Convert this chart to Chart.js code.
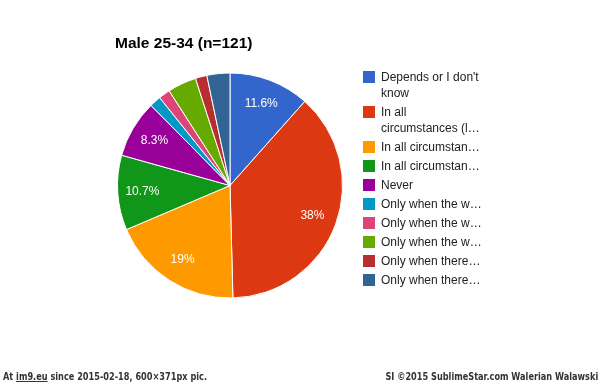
<!DOCTYPE html>
<html>
<head>
<meta charset="utf-8">
<script src="https://cdn.jsdelivr.net/npm/chart.js@4"></script>
<style>
  html, body { margin: 0; padding: 0; background: #fff; }
  #wrap { position: relative; width: 600px; height: 383px; overflow: hidden; background: #fff; }
  #chart { position: absolute; left: 0; top: 0; }
  #title { position: absolute; left: 115px; top: 34px; font: bold 15.5px Arial, "Liberation Sans", sans-serif; color: #000; white-space: nowrap; }
  #legend { position: absolute; left: 363px; top: 69px; font: 12px Arial, "Liberation Sans", sans-serif; color: #222; }
  .item { position: relative; padding-left: 18px; margin-bottom: 3px; line-height: 16px; white-space: pre-line; }
  .sw { position: absolute; left: 0; top: 2px; width: 12px; height: 12px; }
  #footer { position: absolute; left: 0; top: 371px; width: 600px; height: 12px; background: #fff; font: bold 11px "DejaVu Sans", sans-serif; color: #333; }
  #footer span { position: absolute; top: -1px; white-space: nowrap; }
  #footer .l { left: 3px; transform-origin: 0 50%; }
  #footer .r { right: 2px; transform-origin: 100% 50%; }
  #footer u { text-decoration: underline; }
</style>
</head>
<body>
<div id="wrap">
  <canvas id="chart" width="600" height="371"></canvas>
  <div id="title"></div>
  <div id="legend"></div>
  <div id="footer"><span class="l">At <u>im9.eu</u> since 2015-02-18, 600×371px pic.</span><span class="r">SI ©2015 SublimeStar.com Walerian Walawski</span></div>
</div>
<script>
const chartTitle = "Male 25-34 (n=121)";
const categories = [
  "Depends or I don't\nknow",
  "In all\ncircumstances (l…",
  "In all circumstan…",
  "In all circumstan…",
  "Never",
  "Only when the w…",
  "Only when the w…",
  "Only when the w…",
  "Only when there…",
  "Only when there…"
];
const counts = [14, 46, 23, 13, 10, 2, 2, 5, 2, 4];
const colors = ["#3366cc", "#dc3912", "#ff9900", "#109618", "#990099", "#0099c6", "#dd4477", "#66aa00", "#b82e2e", "#316395"];

document.getElementById('title').textContent = chartTitle;
const legend = document.getElementById('legend');
categories.forEach((c, i) => {
  const d = document.createElement('div');
  d.className = 'item';
  const s = document.createElement('span');
  s.className = 'sw';
  s.style.background = colors[i];
  d.appendChild(s);
  d.appendChild(document.createTextNode(c));
  legend.appendChild(d);
});

// condense footer text (same horizontal scale for both parts)
const fl = document.querySelector('#footer .l');
const fr = document.querySelector('#footer .r');
const k = 204 / fl.getBoundingClientRect().width;
fl.style.transform = 'scaleX(' + k + ')';
fr.style.transform = 'scaleX(' + k + ')';

const total = counts.reduce((a, b) => a + b, 0);
const pctLabels = {
  id: 'pctLabels',
  afterDatasetsDraw(chart) {
    const ctx = chart.ctx;
    const meta = chart.getDatasetMeta(0);
    ctx.save();
    ctx.font = '12px Arial, "Liberation Sans", sans-serif';
    ctx.fillStyle = '#fff';
    ctx.textAlign = 'center';
    ctx.textBaseline = 'middle';
    meta.data.forEach((arc, i) => {
      const pct = counts[i] / total * 100;
      if (pct < 5) return;
      const p = arc.getProps(['x', 'y', 'startAngle', 'endAngle', 'outerRadius'], true);
      const mid = (p.startAngle + p.endAngle) / 2;
      const r = p.outerRadius * 0.78;
      const txt = pct.toFixed(1).replace(/\.0$/, '') + '%';
      ctx.fillText(txt, p.x + Math.cos(mid) * r, p.y + Math.sin(mid) * r);
    });
    ctx.restore();
  }
};

new Chart(document.getElementById('chart'), {
  type: 'pie',
  data: {
    labels: categories,
    datasets: [{
      data: counts,
      backgroundColor: colors,
      borderColor: '#ffffff',
      borderWidth: 1
    }]
  },
  options: {
    responsive: false,
    animation: false,
    devicePixelRatio: 1,
    layout: { padding: { left: 117, right: 257, top: 72, bottom: 72 } },
    plugins: {
      legend: { display: false },
      tooltip: { enabled: false },
      title: { display: false }
    }
  },
  plugins: [pctLabels]
});
</script>
</body>
</html>
